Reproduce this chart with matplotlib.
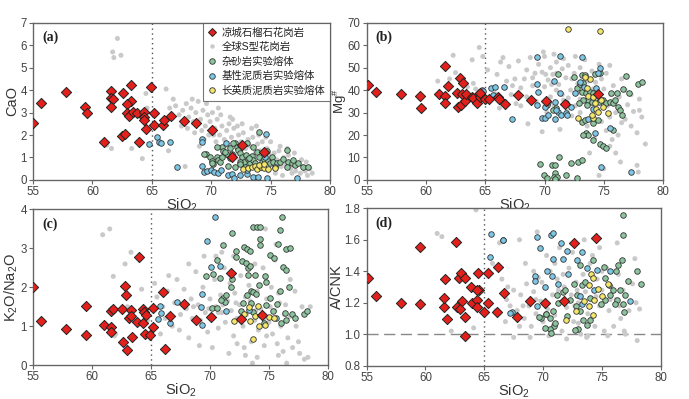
import matplotlib
matplotlib.use("Agg")
import matplotlib.pyplot as plt
from matplotlib.lines import Line2D

plt.rcParams['font.family'] = ['Liberation Sans', 'Noto Sans CJK SC']
plt.rcParams['mathtext.fontset'] = 'custom'
plt.rcParams['mathtext.rm'] = 'Liberation Sans'
plt.rcParams['mathtext.it'] = 'Liberation Sans:italic'

# ---------------- data ----------------
labels = ['凉城石榴石花岗岩', '全球S型花岗岩', '杂砂岩实验熔体', '基性泥质岩实验熔体', '长英质泥质岩实验熔体']

# (a) CaO vs SiO2
a_red = [(55.0,2.55),(55.7,3.44),(57.75,3.9),(59.4,3.23),(59.5,3.0),(61.0,1.7),(61.55,3.98),(61.55,3.66),
         (61.75,3.6),(61.55,3.26),(62.45,1.96),(62.75,2.05),(62.6,3.87),(63.25,4.21),(63.25,3.52),(62.9,3.38),
         (62.9,2.98),(63.1,2.86),(63.4,3.01),(63.75,3.0),(63.9,1.69),(64.3,3.01),(64.3,2.82),(64.35,2.66),
         (64.5,2.26),(64.9,4.12),(65.2,2.98),(65.2,2.45),(65.95,2.46),(66.05,2.69),(66.6,2.85),(67.7,2.63),
         (68.75,2.55),(70.05,2.23),(71.75,1.02),(72.55,1.57),(74.45,1.26)]
a_gray = [(61.2,1.55),(61.6,1.4),(62.1,6.3),(61.7,5.7),(61.8,5.45),(62.4,5.55),(63.3,1.4),(64.2,0.95),
          (64.5,3.85),(64.6,3.2),(66.2,4.05),(66.8,3.6),(67.8,0.6),(66.4,1.3),
          (66.5,3.2),(67.0,3.3),(67.3,2.9),(67.6,3.1),(67.9,3.4),(68.1,2.8),(68.3,3.2),(68.5,2.6),(68.7,3.0),
          (68.9,3.5),(69.1,2.7),(69.3,3.1),(69.5,2.4),(69.7,2.9),(69.9,2.6),(70.1,3.0),(70.3,2.3),(70.5,2.7),
          (70.7,2.0),(70.9,2.4),(71.1,1.8),(71.3,2.2),(71.5,2.5),(71.7,1.9),(71.9,2.3),(72.1,1.6),(72.3,2.0),
          (72.5,1.7),(72.7,2.1),(72.9,1.4),(73.1,1.8),(73.3,1.5),(73.5,1.9),(73.7,1.2),(73.9,1.6),(74.1,1.3),
          (74.3,1.7),(74.5,1.0),(74.7,1.4),(74.9,1.1),(75.1,0.8),(75.3,1.2),(75.5,0.9),(75.7,1.3),(75.9,0.6),
          (76.1,1.0),(76.3,0.7),(76.5,1.1),(76.7,0.5),(76.9,0.8),(77.1,0.4),(77.3,0.7),(77.5,0.3),(77.7,0.6),
          (77.9,0.4),(78.1,0.2),(78.3,0.5),(78.5,0.3),(72.0,1.1),(72.4,0.9),(73.0,0.8),(73.6,0.6),(74.2,0.5),
          (74.8,0.4),(75.4,0.3),(76.0,0.2),(71.0,1.3),(70.4,1.7),(69.8,2.0),(69.2,2.2),(68.6,2.1),(69.0,1.5),
          (67.5,2.4),(68.0,2.3),(70.8,2.9),(71.6,2.8),(72.6,2.5),(73.4,2.3),(74.0,2.0),(74.6,1.9),(75.0,1.7),
          (75.8,1.5),(76.4,1.4),(77.0,1.2),(77.6,0.9),(78.0,0.8),(73.2,1.0),(74.4,0.8),(75.6,0.6),(76.8,0.3),
          (71.4,1.5),(70.2,2.0),(69.4,1.8),(68.4,3.6),(69.6,3.4),(70.6,3.2),(71.8,2.7),(73.8,2.4),(72.2,2.4)]
a_green = [(69.53,1.16),(69.9,1.04),(70.04,0.84),(70.18,0.71),(70.46,1.04),(70.54,0.89),(70.74,0.81),(70.88,1.48),
           (70.96,1.3),(71.16,1.21),(71.39,1.11),(71.58,0.96),(71.72,1.16),(72.0,1.63),(72.14,1.48),(72.28,1.33),
           (72.42,1.18),(72.56,1.01),(72.76,0.81),(72.93,1.11),(73.13,0.93),(73.27,0.77),(73.41,1.07),(73.55,0.89),
           (73.69,0.74),(73.83,1.26),(74.05,2.15),(74.05,1.04),(74.25,0.81),(74.44,0.92),(74.67,1.3),(74.81,0.86),
           (74.95,0.74),(75.09,1.04),(75.23,0.81),(75.51,0.74),(75.79,0.81),(76.07,0.92),(76.35,1.33),(76.49,0.81),
           (76.77,0.74),(77.05,0.67),(77.33,0.74),(77.76,0.56),(78.18,0.56),(72.42,0.81),(72.85,0.59),(72.0,0.59),
           (76.35,0.56),(76.91,0.89),(69.38,1.16),(70.08,0.77),(70.5,1.48),(70.87,1.04),(71.18,1.26),(71.38,0.62),
           (71.57,1.41),(71.85,1.66),(72.4,0.71),(72.98,1.63),(73.54,1.48),(73.2,0.96)]
a_blue = [(64.75,1.6),(65.46,1.9),(65.6,1.71),(65.75,1.63),(66.53,1.7),(67.15,0.56),(69.25,1.82),(69.25,1.68),
          (69.25,0.62),(69.42,0.37),(69.62,0.41),(69.98,0.44),(70.26,0.37),(70.54,0.3),(70.82,0.44),(71.43,0.22),
          (71.72,0.27),(71.94,0.07),(72.42,0.22),(72.98,0.25),(73.04,0.44),(73.54,0.15),(73.96,0.15),(74.67,0.07),
          (77.19,0.07),(71.2,1.63),(74.6,2.04),(74.5,1.04),(75.36,0.56)]
a_yellow = [(72.7,0.47),(73.13,0.52),(73.41,0.56),(73.69,0.62),(73.83,0.47),(74.17,0.56),(74.45,0.52),
            (74.81,0.47),(75.37,0.52),(74.0,0.67),(74.4,0.71)]

# (b) Mg# vs SiO2
b_red = [(55.1,42.3),(55.8,39.2),(57.9,38.1),(59.5,37.4),(59.55,32.0),(61.1,38.4),(61.6,50.9),(61.6,37.5),
         (61.65,34.1),(61.85,41.7),(62.6,38.7),(62.7,32.5),(62.9,45.5),(62.95,33.2),(63.1,43.0),(63.05,38.3),
         (63.3,35.0),(63.4,38.1),(63.85,37.1),(64.0,36.6),(64.35,34.4),(64.45,38.3),(64.55,37.1),(64.6,38.7),
         (64.95,35.9),(65.3,36.0),(66.1,36.8),(66.2,35.9),(66.7,34.0),(67.8,38.0),(68.85,35.6),(70.1,35.1),
         (71.75,33.7),(74.5,38.3)]
b_gray = [(61.8,50.5),(62.3,55.5),(62.5,47.8),(63.9,53.5),(64.5,59.0),(64.8,55.0),(62.9,44.5),(66.0,47.0),
          (66.5,54.5),(66.3,52.5),(65.2,49.0),(67.0,50.5),(67.5,45.0),(67.8,53.0),(68.0,41.0),(67.2,38.0),
          (66.8,44.0),(68.5,49.0),(68.8,54.5),(69.0,45.5),(69.5,51.5),(69.8,48.0),(70.0,55.0),(70.3,44.5),
          (70.5,50.0),(70.7,47.0),(71.0,52.5),(71.2,42.5),(71.5,49.5),(71.8,45.5),(72.0,51.0),(72.2,40.0),
          (72.5,47.5),(72.8,43.0),(73.0,50.0),(73.3,41.0),(73.5,46.0),(73.8,38.5),(74.0,48.5),(74.3,43.5),
          (74.5,36.0),(74.8,45.0),(75.0,40.5),(75.3,33.0),(75.5,51.0),(75.8,42.0),(76.0,30.0),(76.3,37.0),
          (76.5,45.0),(76.8,27.0),(77.0,33.5),(77.3,24.0),(77.5,30.5),(77.8,21.0),(78.0,31.0),(78.5,16.0),
          (77.8,6.5),(77.9,3.5),(76.4,8.0),(76.0,12.0),(75.7,18.0),(75.2,22.0),(74.8,26.0),(74.2,18.5),
          (73.8,12.0),(74.6,2.0),(75.0,5.0),(76.2,20.0),(75.5,15.0),(74.0,28.0),(73.0,30.0),(72.6,33.0),
          (72.0,36.5),(71.5,38.0),(71.0,40.0),(70.5,37.0),(70.0,41.5),(69.5,39.0),(69.0,42.0),(68.5,37.0),
          (68.0,33.0),(68.6,25.0),(69.8,21.5),(71.3,22.5),(72.3,28.5),(73.6,24.0),(71.9,30.5),(70.8,33.0),
          (70.2,30.0),(69.3,35.0),(67.6,34.0),(66.2,32.0),(65.8,38.5),(73.0,36.0),(73.8,33.5),(74.5,31.0),
          (75.5,28.0),(76.5,25.5),(76.8,40.0),(77.3,38.0),(78.0,36.0),(78.2,28.0),(75.2,47.5),(74.6,51.5),
          (73.4,53.5),(72.6,55.0),(71.6,54.0),(70.8,56.0),(69.9,57.0),(72.3,45.0),(71.0,47.5),(70.1,47.0),
          (73.7,44.0),(74.1,40.5),(75.6,38.0),(76.0,34.5),(72.9,39.0),(71.6,35.5),(70.6,42.5),(69.2,47.5),
          (68.3,45.0),(67.3,42.0),(66.7,41.0),(62.0,45.0),(61.0,44.0),(63.5,41.5),(64.0,43.0),(64.2,40.5)]
b_green = [(71.1,47.2),(72.5,45.7),(73.12,46.7),(73.4,46.7),(74.24,47.2),(74.66,47.5),(76.85,46.3),(77.89,42.7),
           (78.23,43.5),(72.75,40.8),(72.98,42.7),(73.26,43.0),(73.12,39.3),(73.48,38.6),(73.82,39.3),(74.1,38.9),
           (73.68,35.6),(73.26,35.6),(72.92,34.1),(73.54,33.4),(73.96,34.9),(74.61,34.9),(74.94,35.6),(75.22,34.1),
           (75.5,34.9),(75.64,38.9),(76.07,38.9),(76.63,40.4),(77.13,38.6),(75.78,34.1),(75.93,35.6),(76.21,32.3),
           (76.35,31.2),(76.49,28.9),(75.78,22.3),(73.12,26.0),(73.48,20.8),(73.68,20.0),(73.26,20.0),(74.66,16.0),
           (74.94,15.1),(75.22,14.4),(74.1,17.8),(71.01,31.9),(70.73,31.2),(74.1,25.2),(73.4,26.7),(74.52,26.7),
           (70.17,33.2),
           (69.6,7.0),(69.97,2.2),(70.59,6.7),(70.87,3.0),(71.21,10.1),(70.82,1.5),(70.17,0.7),(72.7,0.7),
           (71.85,2.2),(72.22,7.4),(72.78,7.9),(73.17,8.9),(70.87,6.7),(71.07,1.5),(70.87,0.3)]
b_blue = [(64.77,40.1),(65.53,40.8),(65.81,41.2),(66.57,41.5),(67.22,27.2),(69.33,54.9),(71.29,55.3),(73.17,54.6),
          (69.33,42.7),(69.47,39.3),(70.79,44.1),(69.38,33.4),(70.03,32.6),(69.75,27.7),(70.03,27.7),(70.31,28.9),
          (70.87,27.0),(71.15,30.4),(71.43,28.9),(71.85,30.0),(71.9,28.9),(72.19,32.4),(72.56,38.6),(71.85,34.1),
          (70.87,34.9),(71.01,31.2),(74.66,49.7),(74.52,47.8),(74.38,40.8),(74.52,37.8),(74.1,31.5),(73.68,27.0),
          (75.5,23.0),(74.24,20.8),(74.8,5.9),(77.33,3.7),(70.31,34.9),(71.29,38.9),(64.78,39.7),(65.67,37.8),
          (73.0,43.8),(73.3,41.5)]
b_yellow = [(71.99,67.0),(74.66,66.3),(73.82,44.8),(73.4,45.7),(73.6,40.8),(73.68,37.4),(74.1,37.1),(74.24,34.1),
            (74.38,31.5),(74.52,30.4),(74.94,32.3),(75.36,30.0),(72.78,27.8),(74.1,27.8),(74.8,35.6),(74.0,28.9)]

# (c) K2O/Na2O vs SiO2
c_red = [(55.0,2.0),(55.7,1.14),(57.8,0.92),(59.45,1.52),(59.5,0.77),(61.0,1.02),(61.6,0.99),(61.6,1.40),
         (61.8,1.45),(61.6,0.86),(62.5,1.43),(62.65,0.59),(62.8,2.03),(62.9,1.81),(62.95,0.38),(63.1,1.21),
         (63.3,1.41),(63.3,1.25),(63.4,0.72),(63.8,1.11),(64.0,2.79),(64.35,1.45),(64.4,1.36),(64.35,1.09),
         (64.45,0.79),(64.6,1.29),(64.95,0.77),(65.2,1.46),(65.2,0.98),(66.05,1.89),(66.15,0.42),(66.65,1.26),
         (67.8,1.57),(68.85,1.16),(70.05,1.23),(71.8,2.37),(72.6,1.19),(74.45,1.28)]
c_gray = [(61.5,3.5),(60.9,3.35),(61.8,2.28),(61.9,0.75),(63.3,2.9),(64.2,1.95),(62.8,2.6),(63.0,1.5),(62.0,0.8),
          (64.7,1.15),(65.3,2.1),(65.5,1.75),(66.0,1.5),(66.4,1.9),(66.8,1.0),(67.0,1.6),(67.4,0.9),(67.5,1.3),
          (67.8,1.95),(68.0,1.45),(68.2,0.7),(68.4,1.7),(68.5,1.2),(68.8,2.4),(69.0,1.55),(69.2,1.15),(69.4,2.0),
          (69.6,1.35),(69.8,0.85),(70.0,1.7),(70.2,1.25),(70.4,2.2),(70.5,1.5),(70.7,0.95),(70.9,1.8),(71.0,1.35),
          (71.2,2.5),(71.3,1.1),(71.5,1.65),(71.7,2.1),(71.8,1.4),(72.0,0.75),(72.1,1.85),(72.3,1.2),(72.5,1.55),
          (72.6,2.3),(72.8,1.0),(73.0,1.75),(73.1,1.3),(73.3,2.05),(73.5,0.6),(73.6,1.55),(73.8,1.15),(74.0,1.9),
          (74.1,0.9),(74.3,1.45),(74.5,2.5),(74.6,0.5),(74.8,1.7),(75.0,1.1),(75.2,2.0),(75.3,0.8),(75.5,1.4),
          (75.7,0.55),(75.8,1.85),(76.0,1.0),(76.2,0.35),(76.4,1.55),(76.6,0.7),(76.8,1.25),(77.0,0.45),(77.3,1.0),
          (77.6,0.3),(77.8,1.5),(78.0,0.15),(78.3,0.2),(78.5,1.5),(74.0,0.2),(73.6,0.05),(72.9,0.45),(76.5,0.05),
          (71.0,2.9),(70.5,2.8),(72.0,2.8),(75.5,2.7),(76.8,2.2),(77.2,1.9),(74.7,3.5),(75.6,3.1),(73.8,2.6),
          (69.5,2.8),(69.1,0.5),(70.2,0.45),(71.6,0.3),(73.0,0.25),(72.3,0.55),(74.8,0.75),(75.8,0.25),(77.5,0.6),
          (66.5,2.3),(67.2,2.2),(68.2,2.6),(65.8,0.8),(66.2,1.2),(68.6,1.5),(69.9,1.45),(71.1,1.55),(72.7,1.35),
          (73.9,1.4),(75.1,1.5),(76.3,1.3),(70.7,1.35),(72.2,1.6),(73.4,1.65),(74.6,1.2),(75.9,1.6)]
c_green = [(76.13,3.8),(73.64,3.54),(73.98,3.54),(74.26,3.54),(75.9,3.48),(71.89,3.4),(74.26,3.23),(74.21,3.08),
           (75.76,3.1),(71.1,3.08),(72.85,3.03),(73.13,2.99),(73.36,2.94),(72.17,2.92),(72.23,2.78),(75.11,2.84),
           (75.39,2.74),(76.47,2.99),(76.75,3.0),(70.62,2.71),(72.74,2.67),(73.08,2.62),(73.22,2.5),(73.42,2.54),
           (76.18,2.51),(76.41,2.45),(69.63,2.3),(70.25,2.35),(70.87,2.25),(71.89,2.22),(73.22,2.31),(73.78,2.31),
           (74.63,2.3),(74.77,2.13),(71.81,2.02),(74.12,2.06),(76.67,2.02),(75.9,1.91),(73.5,1.91),(73.64,1.87),
           (73.13,1.81),(73.87,1.82),(75.05,1.72),(71.1,1.72),(71.33,1.79),(71.24,1.63),(70.96,1.68),(70.2,1.46),
           (70.59,1.48),(72.8,1.59),(73.5,1.59),(74.77,1.55),(75.68,1.57),(72.65,1.38),(73.64,1.36),(75.34,1.38),
           (76.33,1.33),(76.98,1.32),(77.17,1.2),(77.94,1.31),(78.25,1.39),(75.99,1.08),(76.41,1.16),(74.55,1.08)]
c_blue = [(70.4,3.8),(69.75,3.18),(70.06,2.51),(70.82,2.54),(69.3,1.83),(67.2,1.63),(65.82,1.33),(65.6,1.19),
          (65.8,1.52),(66.64,1.09),(69.27,1.49),(69.3,1.03),(71.33,1.38),(73.28,1.42),(75.56,1.22)]
c_yellow = [(72.03,1.14),(72.88,1.31),(73.3,1.5),(73.42,1.14),(73.8,1.25),(74.15,1.01),(74.7,1.03),(75.0,1.23),
            (75.42,1.2),(73.66,0.67),(74.1,1.52),(74.35,1.29)]

# (d) A/CNK vs SiO2
d_red = [(55.1,1.357),(55.8,1.243),(57.9,1.196),(59.55,1.552),(59.5,1.194),(61.65,1.353),(61.6,1.175),
         (61.6,1.233),(61.85,1.097),(62.6,1.588),(62.85,1.36),(63.0,1.39),(62.7,1.17),(62.95,1.16),(63.1,1.21),
         (63.4,1.36),(63.35,1.11),(63.35,0.99),(63.85,1.30),(64.0,1.20),(64.4,1.22),(64.4,1.17),(64.5,1.39),
         (64.55,1.28),(64.4,1.28),(65.0,1.14),(65.3,1.39),(65.3,1.20),(66.2,1.425),(66.1,1.14),(66.7,1.26),
         (67.8,1.11),(68.9,1.21),(70.15,1.20),(72.65,1.578),(71.8,1.21),(74.5,1.61)]
d_gray = [(61.0,1.64),(61.4,1.62),(64.3,1.79),(64.1,1.04),(62.2,1.02),(66.3,1.58),(65.7,1.45),(66.5,1.35),
          (66.9,1.22),(67.2,1.18),(67.5,1.28),(67.8,1.15),(68.0,1.60),(68.1,1.25),(68.4,1.10),(68.6,1.32),
          (68.8,1.18),(69.0,1.05),(69.2,1.27),(69.4,1.13),(69.6,1.36),(69.8,1.21),(70.0,1.08),(70.2,1.30),
          (70.4,1.16),(70.6,1.40),(70.8,1.25),(71.0,1.12),(71.2,1.35),(71.4,1.20),(71.6,1.02),(71.8,1.30),
          (72.0,1.17),(72.2,1.42),(72.4,1.25),(72.6,1.08),(72.8,1.33),(73.0,1.20),(73.2,1.00),(73.4,1.38),
          (73.6,1.27),(73.8,1.13),(74.0,1.45),(74.2,1.22),(74.4,1.05),(74.6,1.35),(74.8,1.18),(75.0,1.28),
          (75.2,1.02),(75.4,1.42),(75.6,1.15),(75.8,1.30),(76.0,1.05),(76.2,1.22),(76.4,1.38),(76.6,1.10),
          (76.8,1.28),(77.0,1.00),(77.3,1.15),(77.6,1.32),(77.9,1.20),(78.2,1.16),(77.8,1.48),(78.0,0.96),
          (71.4,1.55),(70.3,1.50),(69.5,1.65),(73.5,1.60),(72.5,1.52),(74.8,1.55),(76.3,1.58),(68.5,1.45),
          (67.0,1.30),(66.0,1.15),(66.8,1.08),(68.9,0.98),(70.5,0.99),(72.0,0.97),(73.7,0.98),(75.5,0.99),
          (76.9,1.02),(69.2,1.40),(71.0,1.45),(74.2,1.50),(75.0,1.40),(73.0,1.07),(71.7,1.38),(70.0,1.20),
          (72.9,1.28),(74.5,1.24),(75.7,1.22),(68.0,1.05),(67.5,0.98),(73.8,0.99),(69.9,1.33),(71.3,1.28),
          (72.7,1.18),(74.1,1.10),(75.3,1.35),(76.5,1.18),(70.9,1.06),(69.4,1.22),(68.3,1.18)]
d_green = [(76.81,1.76),(76.75,1.63),(74.26,1.47),(75.17,1.43),(76.39,1.44),(76.73,1.47),(77.94,1.40),(78.28,1.32),
           (77.24,1.34),(76.19,1.40),(73.13,1.44),(72.62,1.32),(73.27,1.31),(75.25,1.36),(75.91,1.28),(76.53,1.28),
           (76.95,1.25),(76.25,1.22),(76.1,1.19),(76.81,1.19),(75.68,1.25),(75.25,1.22),(72.85,1.25),(72.28,1.22),
           (71.2,1.25),(71.29,1.20),(71.71,1.27),(72.79,1.18),(73.13,1.15),(73.98,1.09),(73.41,1.09),(73.7,1.06),
           (70.24,1.13),(69.79,1.10),(70.58,1.10),(70.95,1.05),(70.58,1.03),(72.99,1.03),(76.87,1.14),(69.64,1.107),
           (70.15,1.037),(70.71,1.005),(70.23,1.13),(71.0,1.07),(72.0,1.115),(72.7,1.027),(70.85,1.15),(71.85,1.28),
           (74.0,1.23),(74.9,1.19),(73.6,1.33),(75.6,1.31)]
d_blue = [(66.61,1.60),(69.45,1.62),(70.64,1.63),(70.86,1.64),(71.51,1.58),(72.0,1.53),(73.27,1.52),(69.73,1.55),
          (70.86,1.48),(72.9,1.47),(71.71,1.48),(73.7,1.42),(74.55,1.41),(75.68,1.40),(70.3,1.40),(70.72,1.37),
          (69.3,1.37),(69.3,1.34),(71.29,1.32),(72.14,1.38),(70.16,1.30),(73.13,1.24),(73.27,1.19),(77.38,1.21),
          (74.32,1.28),(69.45,1.18),(67.32,1.14),(65.56,1.635),(65.48,1.49),(66.58,1.60),(67.23,1.137)]
d_yellow = [(74.1,1.38),(73.9,1.31),(74.68,1.29),(75.5,1.32),(75.05,1.24),(74.35,1.22),(73.45,1.21),(73.9,1.18),
            (72.8,1.15),(74.25,1.12),(71.98,1.09),(74.26,1.36)]

panels = [
    dict(pos=[0.048, 0.549, 0.431, 0.394], ylim=(0, 7), yticks=[0,1,2,3,4,5,6,7], tag='(a)',
         ylabel='CaO', red=a_red, gray=a_gray, green=a_green, blue=a_blue, yellow=a_yellow, fmt='{:g}',
         lpad=0.5, lsize=10.5),
    dict(pos=[0.532, 0.549, 0.4305, 0.394], ylim=(0, 70), yticks=[0,10,20,30,40,50,60,70], tag='(b)',
         ylabel=r'Mg$^{\#}$', red=b_red, gray=b_gray, green=b_green, blue=b_blue, yellow=b_yellow, fmt='{:g}',
         lpad=-1.0, lsize=9.5),
    dict(pos=[0.048, 0.085, 0.428, 0.390], ylim=(0, 4), yticks=[0,1,2,3,4], tag='(c)',
         ylabel=r'K$_2$O/Na$_2$O', red=c_red, gray=c_gray, green=c_green, blue=c_blue, yellow=c_yellow, fmt='{:g}',
         lpad=0.5, lsize=10.5),
    dict(pos=[0.532, 0.0835, 0.427, 0.3945], ylim=(0.8, 1.8), yticks=[0.8,1.0,1.2,1.4,1.6,1.8], tag='(d)',
         ylabel='A/CNK', red=d_red, gray=d_gray, green=d_green, blue=d_blue, yellow=d_yellow, fmt='{:.1f}',
         lpad=0.5, lsize=10.5),
]

xticks = [55, 60, 65, 70, 75, 80]

C_RED = '#e3201c'
C_GRAY = '#c9c9c9'
C_GREEN = '#8cc59d'
C_BLUE = '#7cc6e6'
C_YELLOW = '#f4e76a'
EDGE = '#333333'

fig = plt.figure(figsize=(6.89, 3.99), dpi=100)

for i, p in enumerate(panels):
    ax = fig.add_axes(p['pos'])
    ax.set_xlim(55, 80)
    ax.set_ylim(*p['ylim'])
    ax.set_xticks(xticks)
    ax.set_yticks(p['yticks'])
    ax.set_yticklabels([p['fmt'].format(v) for v in p['yticks']])
    ax.axvline(65, color='#555555', ls=(0, (1, 2.5)), lw=1.0, zorder=1)
    if i == 3:
        ax.axhline(1.0, color='#888888', ls=(0, (8, 4)), lw=1.0, zorder=1)
    gx, gy = zip(*p['gray'])
    ax.scatter(gx, gy, s=13, c=C_GRAY, edgecolors='none', zorder=2)
    for key, col in (('green', C_GREEN), ('blue', C_BLUE), ('yellow', C_YELLOW)):
        xs, ys = zip(*p[key])
        ax.scatter(xs, ys, s=16, c=col, edgecolors=EDGE, linewidths=0.6, zorder=3)
    rx, ry = zip(*p['red'])
    ax.scatter(rx, ry, s=27, marker='D', c=C_RED, edgecolors='#222222', linewidths=0.7, zorder=4)
    for sp in ax.spines.values():
        sp.set_color('#666666')
        sp.set_linewidth(1.0)
    ax.tick_params(direction='out', length=3, width=0.8, color='#666666', labelsize=8.3,
                   labelcolor='#444444', pad=1.5)
    ax.set_xlabel(r'SiO$_2$', fontsize=10.5, color='#333333', labelpad=-1)
    ax.set_ylabel(p['ylabel'], fontsize=p['lsize'], color='#333333', labelpad=p['lpad'])
    ax.text(0.03, 0.95, p['tag'], transform=ax.transAxes, fontsize=10, fontweight='bold',
            family='Liberation Serif', va='top', ha='left', color='#222222')
    if i == 0:
        handles = [
            Line2D([], [], marker='D', ls='none', ms=4.5, mfc=C_RED, mec='#222222', mew=0.7),
            Line2D([], [], marker='o', ls='none', ms=3.2, mfc=C_GRAY, mec='none'),
            Line2D([], [], marker='o', ls='none', ms=4.0, mfc=C_GREEN, mec=EDGE, mew=0.6),
            Line2D([], [], marker='o', ls='none', ms=4.0, mfc=C_BLUE, mec=EDGE, mew=0.6),
            Line2D([], [], marker='o', ls='none', ms=4.0, mfc=C_YELLOW, mec=EDGE, mew=0.6),
        ]
        leg = ax.legend(handles, labels, loc='upper right', borderaxespad=0, frameon=True, fancybox=False,
                        handlelength=0.8, handletextpad=0.5, labelspacing=0.42,
                        borderpad=0.45, prop={'family': ['Liberation Sans', 'Noto Sans CJK SC'], 'size': 7.5})
        leg.get_frame().set_edgecolor('#555555')
        leg.get_frame().set_linewidth(0.8)
        leg.set_zorder(10)
        for t in leg.get_texts():
            t.set_color('#222222')

fig.savefig('out.png', dpi=100)
